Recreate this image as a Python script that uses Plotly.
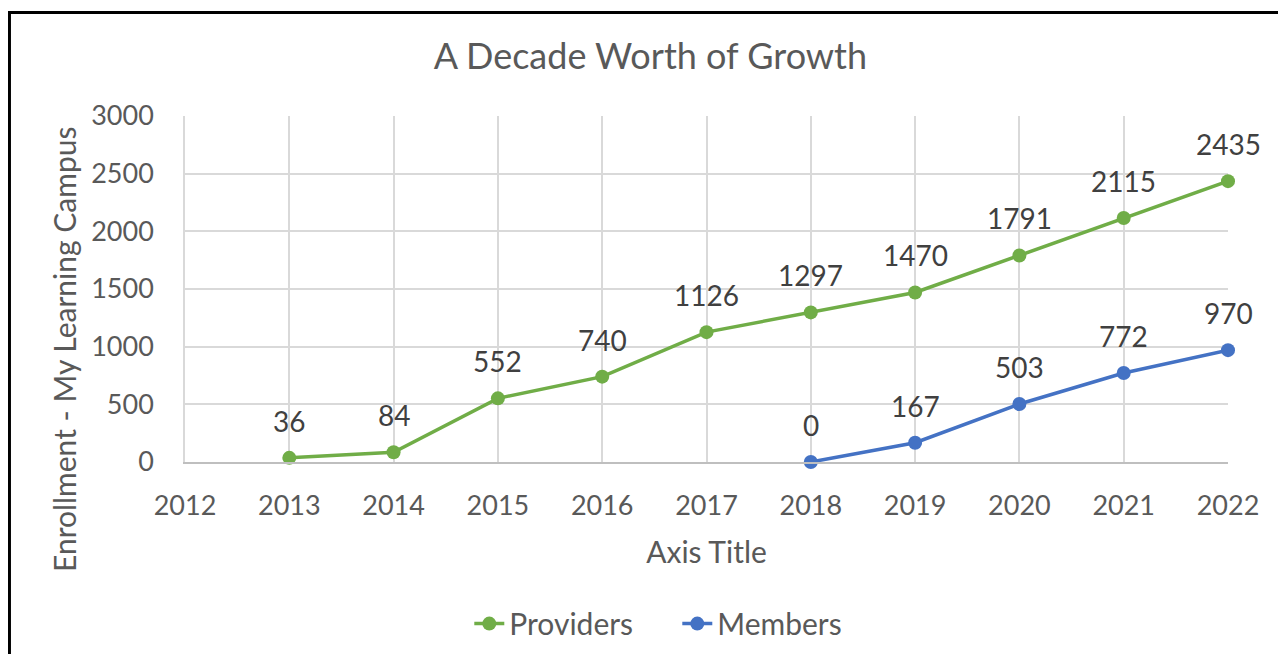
import plotly.graph_objects as go

# data
years_providers = [2013, 2014, 2015, 2016, 2017, 2018, 2019, 2020, 2021, 2022]
providers = [36, 84, 552, 740, 1126, 1297, 1470, 1791, 2115, 2435]
years_members = [2018, 2019, 2020, 2021, 2022]
members = [0, 167, 503, 772, 970]

FONT = "Lato"
GREEN = "#70ad47"
BLUE = "#4472c4"
TXT = "#595959"

fig = go.Figure()

for xs, ys, name, color in [(years_providers, providers, "Providers", GREEN),
                            (years_members, members, "Members", BLUE)]:
    fig.add_trace(go.Scatter(
        x=xs, y=ys, name=name, mode="lines+markers",
        line=dict(color=color, width=3.5),
        marker=dict(color=color, size=14),
        cliponaxis=False,
    ))
    # data labels above the points
    for x, y in zip(xs, ys):
        fig.add_annotation(x=x, y=y, text=str(y), showarrow=False,
                           yshift=37, yanchor="middle",
                           font=dict(family=FONT, size=28, color="#404040"))

# y axis title placed like Excel (centred on the chart, not the plot)
fig.add_annotation(xref="paper", yref="paper", x=-0.116, y=0.3237,
                   text="Enrollment - My Learning Campus", textangle=-90,
                   showarrow=False, xanchor="center", yanchor="middle",
                   font=dict(family=FONT, size=30, color=TXT))

# black frame of the chart area (cropped on right/bottom)
fig.add_shape(type="rect", xref="paper", yref="paper",
              x0=-0.1683, x1=1.2, y0=-1.0, y1=1.2991,
              line=dict(color="black", width=3))

fig.update_layout(
    width=1286, height=654,
    margin=dict(l=177, r=66, t=108, b=200),
    paper_bgcolor="white", plot_bgcolor="white",
    font=dict(family=FONT, size=27, color=TXT),
    title=dict(text="A Decade Worth of Growth", x=0.4995, xanchor="center",
               y=0.9266, yanchor="middle",
               font=dict(family=FONT, size=36, color=TXT)),
    showlegend=True,
    legend=dict(orientation="h", x=0.472, xanchor="center", y=-0.467, yanchor="middle",
                font=dict(family=FONT, size=30, color=TXT),
                itemwidth=30, tracegroupgap=0, entrywidth=163),
)

fig.update_xaxes(
    range=[2012, 2022], dtick=1, tick0=2012,
    showgrid=True, gridcolor="#d9d9d9", gridwidth=1.5,
    showline=True, linecolor="#bfbfbf", linewidth=1.5,
    zeroline=False, ticks="", ticklabelstandoff=19,
    tickfont=dict(family=FONT, size=27, color=TXT),
    title=dict(text="Axis Title", standoff=22,
               font=dict(family=FONT, size=30, color=TXT)),
)
fig.update_yaxes(
    range=[0, 3000], dtick=500,
    showgrid=True, gridcolor="#d9d9d9", gridwidth=1.5,
    showline=True, linecolor="#d9d9d9", linewidth=1.5,
    zeroline=False, ticks="", ticklabelstandoff=24,
    tickfont=dict(family=FONT, size=27, color=TXT),
)

fig.write_html("out.html")
